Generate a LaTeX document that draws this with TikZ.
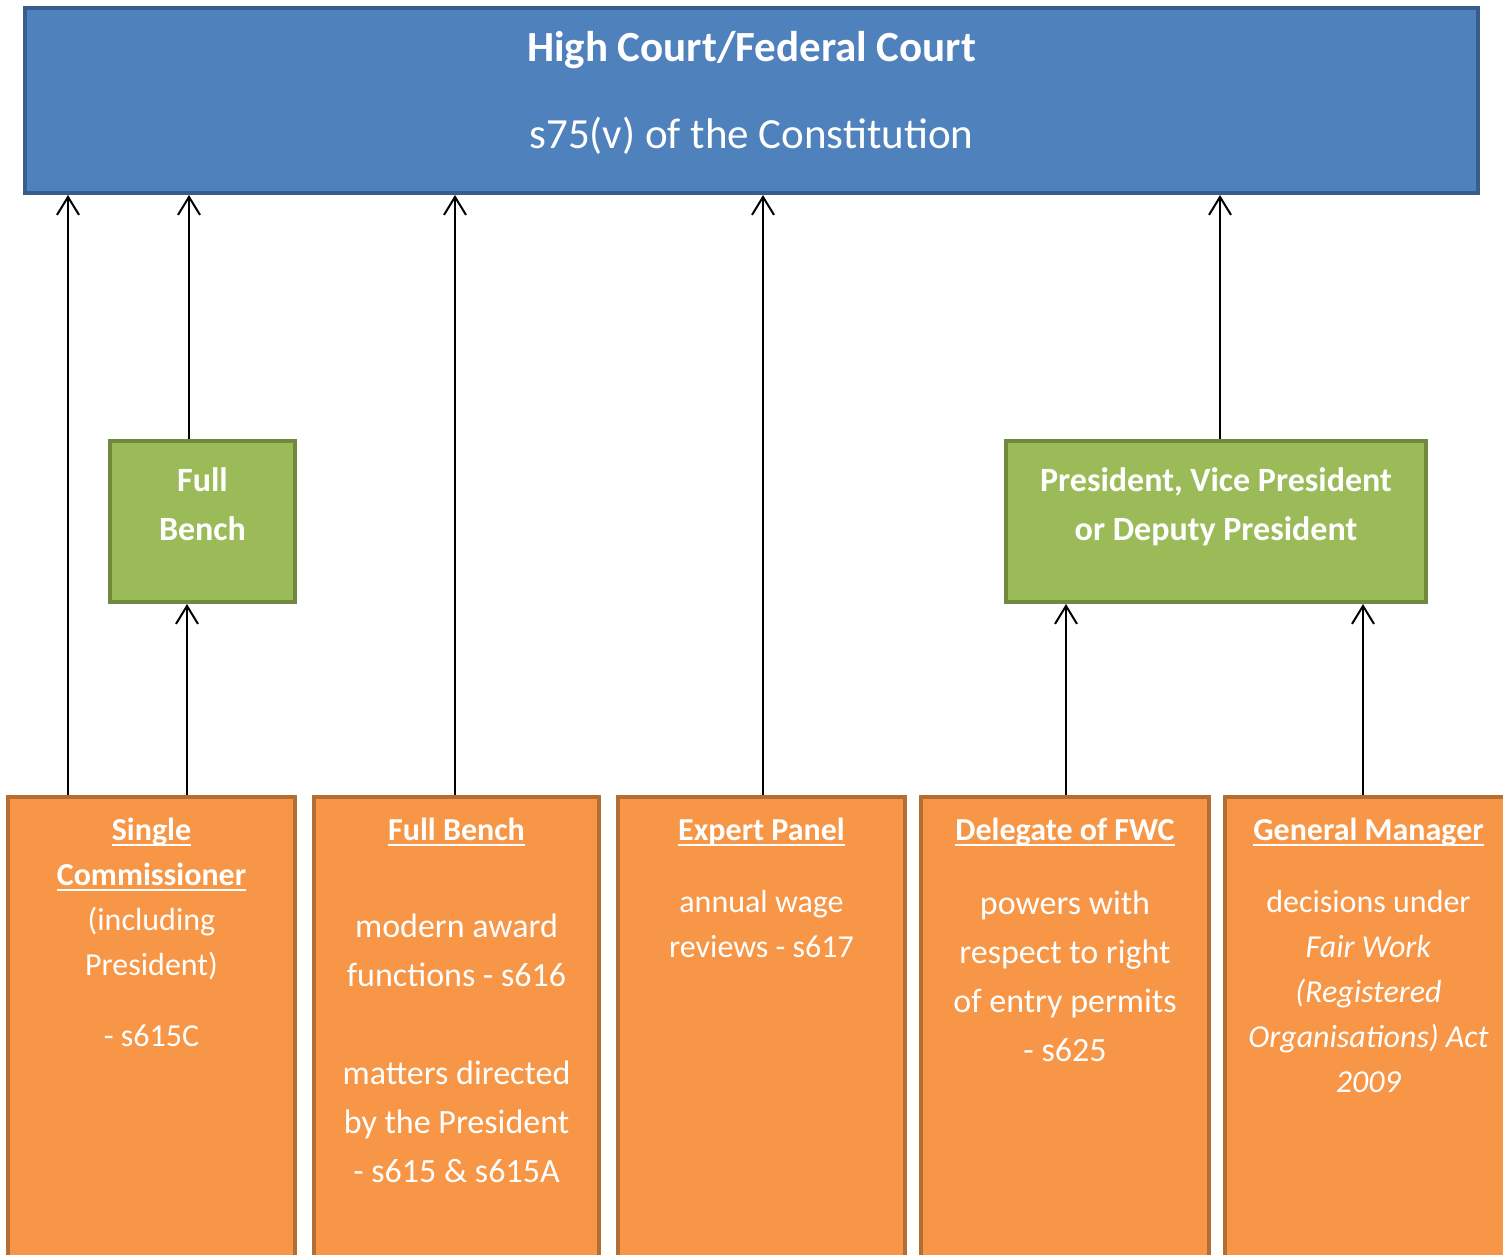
\documentclass[tikz,border=0pt]{standalone}
\usepackage{fontspec}
\setmainfont{Carlito}
\usetikzlibrary{arrows.meta}

\definecolor{courtblue}{HTML}{4F81BD}
\definecolor{courtline}{HTML}{385D8A}
\definecolor{benchgreen}{HTML}{9BBB59}
\definecolor{benchline}{HTML}{71893F}
\definecolor{panelorange}{HTML}{F79646}
\definecolor{panelline}{HTML}{B66D31}

\newsavebox\ulbox
\newcommand\ulword[1]{\sbox\ulbox{#1}\rlap{\rule[-0.15em]{\wd\ulbox}{0.065em}}\usebox\ulbox}

\begin{document}
\begin{tikzpicture}[x=0.5pt, y=-0.5pt,
		courtbox/.style={draw=courtline, fill=courtblue, line width=2pt, inner sep=0pt},
		benchbox/.style={draw=benchline, fill=benchgreen, line width=2pt, inner sep=0pt, minimum height=80.5pt},
		panelbox/.style={draw=panelline, fill=panelorange, line width=2pt, inner sep=0pt, minimum height=241.5pt},
		boxtext/.style={text=white, align=center, inner sep=0pt, anchor=north},
		small/.style={font=\fontsize{16}{22.5}\selectfont},
		big/.style={font=\fontsize{17}{24.5}\selectfont},
		appeal/.style={-{Straight Barb[length=9pt,width=11pt]}, line width=1pt}]
			\useasboundingbox (0,0) rectangle (1503,1254);
			
			% top box
			\node[courtbox, minimum width=726.5pt, minimum height=92.5pt] (court) at (751.5, 100.5) {};
			\node[boxtext, font=\fontsize{21.5}{43.5}\selectfont] (court-text) at (751.5, 31) {\textbf{High Court/Federal Court}\\s75(v) of the Constitution};
			
			% middle boxes
			\node[benchbox, minimum width=92.5pt] (bench) at (202.5, 521.5) {};
			\node[benchbox, minimum width=210pt] (senior) at (1216, 521.5) {};
			\node[boxtext, big] (bench-text) at (202.5, 467) {\textbf{Full}\\\textbf{Bench}};
			\node[boxtext, big] (senior-text) at (1216, 467) {\textbf{President, Vice President}\\\textbf{or Deputy President}};
			
			% bottom boxes
			\node[panelbox, minimum width=143.5pt] (single) at (151.5, 1038.5) {};
			\node[panelbox, minimum width=142.5pt] (fullbench) at (456.5, 1038.5) {};
			\node[panelbox, minimum width=143.5pt] (expert) at (761.5, 1038.5) {};
			\node[panelbox, minimum width=144pt] (delegate) at (1065, 1038.5) {};
			\node[panelbox, minimum width=143.5pt] (manager) at (1368.5, 1038.5) {};
			
			% DRAW TEXTS
			\node[boxtext, small] (single-text) at (151.5, 818) {\ulword{\textbf{Single}}\\\ulword{\textbf{Commissioner}}\\(including\\President)\\[13pt]- s615C};
			\node[boxtext, small] (fullbench-head) at (456.5, 818) {\ulword{\textbf{Full Bench}}};
			\node[boxtext, big] (fullbench-text) at (456.5, 913) {modern award\\functions - s616\\[24.5pt]matters directed\\by the President\\- s615 \& s615A};
			\node[boxtext, small] (expert-head) at (761.5, 818) {\ulword{\textbf{Expert Panel}}};
			\node[boxtext, small] (expert-text) at (761.5, 890) {annual wage\\reviews - s617};
			\node[boxtext, small] (delegate-head) at (1065, 818) {\ulword{\textbf{Delegate of FWC}}};
			\node[boxtext, big] (delegate-text) at (1065, 890) {powers with\\respect to right\\of entry permits\\- s625};
			\node[boxtext, small] (manager-head) at (1368.5, 818) {\ulword{\textbf{General Manager}}};
			\node[boxtext, small] (manager-text) at (1368.5, 890) {decisions under\\\textit{Fair Work}\\\textit{(Registered}\\\textit{Organisations) Act}\\\textit{2009}};
			
			% DRAW ARROWS
			\draw[appeal] ([xshift=-41.75pt]single.north) -- ([xshift=-41.75pt]single.north |- court.south);
			\draw[appeal] ([xshift=17.75pt]single.north) -- ([xshift=17.75pt]single.north |- bench.south);
			\draw[appeal] ([xshift=-6.75pt]bench.north) -- ([xshift=-6.75pt]bench.north |- court.south);
			\draw[appeal] ([xshift=-0.75pt]fullbench.north) -- ([xshift=-0.75pt]fullbench.north |- court.south);
			\draw[appeal] ([xshift=0.75pt]expert.north) -- ([xshift=0.75pt]expert.north |- court.south);
			\draw[appeal] ([xshift=0.5pt]delegate.north) -- ([xshift=0.5pt]delegate.north |- senior.south);
			\draw[appeal] ([xshift=-2.75pt]manager.north) -- ([xshift=-2.75pt]manager.north |- senior.south);
			\draw[appeal] ([xshift=2pt]senior.north) -- ([xshift=2pt]senior.north |- court.south);
		\end{tikzpicture}
\end{document}
